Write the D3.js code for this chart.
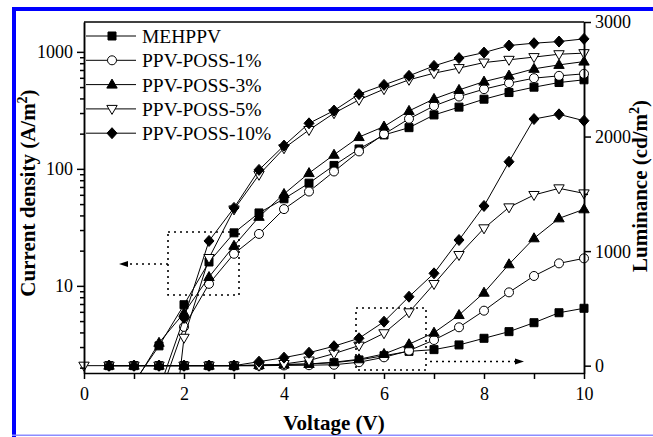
<!DOCTYPE html>
<html>
<head>
<meta charset="utf-8">
<script src="https://cdn.jsdelivr.net/npm/d3@7"></script>
<style>
  body { margin: 0; background: #fff; }
  text { font-family: "Liberation Serif", "Times New Roman", serif; }
</style>
</head>
<body>
<svg id="chart" width="653" height="437"></svg>
<script>
// voltage steps, 0 .. 10 V
const voltage = [0, 0.5, 1, 1.5, 2, 2.5, 3, 3.5, 4, 4.5, 5, 5.5, 6, 6.5, 7, 7.5, 8, 8.5, 9, 9.5, 10];

const seriesNames = ["MEHPPV", "PPV-POSS-1%", "PPV-POSS-3%", "PPV-POSS-5%", "PPV-POSS-10%"];
const seriesShapes = ["square", "circle", "triUp", "triDown", "diamond"];

// current density (A/m2), left log axis
const jMEH   = [null, null, 1.5, 3.07, 6.9, 16.0, 28.4, 42, 55.5, 75.5, 107, 148, 195, 225, 289, 337, 394, 449, 499, 547, 577];
const jP1    = [null, null, null, 1.1, 4.46, 10.4, 18.8, 27.8, 45.3, 64, 95, 141, 198, 268, 345, 415, 480, 540, 596, 624, 649];
const jP3    = [null, null, 1.45, 3.26, 5.87, 11.9, 22, 38.9, 61, 92, 132, 187, 230, 313, 396, 473, 557, 627, 716, 774, 826];
const jP5    = [null, null, null, 0.05, 3.6, 17.3, 45, 89, 150, 215, 299, 389, 480, 577, 657, 727, 810, 855, 902, 955, 975];
const jP10   = [null, null, null, 1.3, 5.32, 24.2, 46.4, 98, 158, 245, 315, 435, 522, 624, 759, 885, 986, 1133, 1186, 1225, 1291];

// luminance (cd/m2), right linear axis
const lMEH   = [null, 0, 0, 0, 0, 0, 0, 5, 10, 15, 26, 50, 87, 125, 140, 181, 239, 297, 375, 462, 501];
const lP1    = [null, 0, 0, 0, 0, 0, 0, 0, 2, 4, 8, 30, 73, 131, 224, 335, 480, 640, 783, 893, 937];
const lP3    = [null, 0, 0, 0, 0, 0, 0, 5, 10, 15, 30, 56, 102, 187, 288, 442, 637, 885, 1112, 1286, 1365];
const lP5    = [0, 0, 0, 0, 0, 0, 0, 0, 15, 45, 105, 175, 283, 466, 713, 966, 1199, 1382, 1490, 1548, 1504];
const lP10   = [null, 0, 0, 0, 0, 0, 0, 35, 70, 113, 170, 239, 384, 602, 806, 1097, 1394, 1780, 2153, 2194, 2138];

const jSeries = [jMEH, jP1, jP3, jP5, jP10];
const lSeries = [lMEH, lP1, lP3, lP5, lP10];

const xTicks = [0, 2, 4, 6, 8, 10];
const jTicks = [10, 100, 1000];
const lTicks = [0, 1000, 2000, 3000];

const svg = d3.select("#chart");

// blue page frame
svg.append("rect").attr("x", 12).attr("y", 7).attr("width", 641).attr("height", 4).attr("fill", "#0000ff");
svg.append("rect").attr("x", 12).attr("y", 7).attr("width", 4).attr("height", 430).attr("fill", "#0000ff");
svg.append("rect").attr("x", 12).attr("y", 434.5).attr("width", 641).attr("height", 1.5).attr("fill", "#8c8cff");

const pL = 84, pR = 584, pT = 22, pB = 373;

const x = d3.scaleLinear().domain([0, 10]).range([pL, pR]);
const yJ = d3.scaleLog().domain([1.8, 1800]).range([pB, pT]);
const yL = d3.scaleLinear().domain([-64, 3000]).range([pB, pT]);

svg.append("clipPath").attr("id", "plot")
  .append("rect").attr("x", pL).attr("y", pT).attr("width", pR - pL).attr("height", pB - pT);

function markerPath(shape) {
  switch (shape) {
    case "square": return "M-4,-4H4V4H-4Z";
    case "circle": return "M4.5,0A4.5,4.5 0 1 1 -4.5,0A4.5,4.5 0 1 1 4.5,0Z";
    case "triUp": return "M0,-5.5L5.2,3.5L-5.2,3.5Z";
    case "triDown": return "M0,5.5L5.2,-3.5L-5.2,-3.5Z";
    case "diamond": return "M0,-5.5L5,0L0,5.5L-5,0Z";
  }
}
function isOpen(shape) { return shape === "circle" || shape === "triDown"; }

function drawMarker(g, shape, cx, cy) {
  g.append("path")
    .attr("d", markerPath(shape))
    .attr("transform", `translate(${cx},${cy})`)
    .attr("fill", isOpen(shape) ? "#fff" : "#000")
    .attr("stroke", "#000")
    .attr("stroke-width", 1);
}

function drawSeries(values, yScale, shape, lo) {
  const pts = voltage.map((v, i) => [v, values[i]]).filter(d => d[1] !== null);
  const line = d3.line().x(d => x(d[0])).y(d => yScale(d[1]));
  svg.append("path")
    .datum(pts)
    .attr("d", line)
    .attr("fill", "none")
    .attr("stroke", "#000")
    .attr("stroke-width", 1)
    .attr("clip-path", "url(#plot)");
  const g = svg.append("g");
  pts.filter(d => d[1] >= lo).forEach(d => drawMarker(g, shape, x(d[0]), yScale(d[1])));
}

lSeries.forEach((s, i) => drawSeries(s, yL, seriesShapes[i], -1));
jSeries.forEach((s, i) => drawSeries(s, yJ, seriesShapes[i], 1.8));

// axes
const axisStyle = g => {
  g.attr("font-family", null);
  g.selectAll("path,line").attr("stroke", "#000").attr("stroke-width", 1.5);
  g.selectAll("text").attr("font-size", 18).attr("fill", "#000");
};

svg.append("g").attr("transform", `translate(0,${pB})`)
  .call(d3.axisBottom(x).tickValues(d3.range(0, 11, 1)).tickSize(6).tickSizeOuter(0)
    .tickFormat(d => xTicks.includes(d) ? d : ""))
  .call(axisStyle)
  .call(g => g.selectAll("text").attr("dy", 0).attr("y", 27));

const minorJ = [];
[1, 10, 100, 1000].forEach(p => d3.range(2, 10).forEach(m => {
  const v = p * m; if (v >= 1.8 && v <= 1800) minorJ.push(v);
}));
svg.append("g").attr("transform", `translate(${pL},0)`)
  .call(d3.axisLeft(yJ).tickValues(minorJ).tickSize(4).tickSizeOuter(0).tickFormat(""))
  .call(axisStyle);
svg.append("g").attr("transform", `translate(${pL},0)`)
  .call(d3.axisLeft(yJ).tickValues(jTicks).tickSize(7).tickSizeOuter(0).tickFormat(d3.format("d")))
  .call(axisStyle)
  .call(g => g.selectAll("text").attr("x", -11).attr("dy", "0.33em"));

svg.append("g").attr("transform", `translate(${pR},0)`)
  .call(d3.axisRight(yL).tickValues([500, 1500, 2500]).tickSize(4).tickSizeOuter(0).tickFormat(""))
  .call(axisStyle);
svg.append("g").attr("transform", `translate(${pR},0)`)
  .call(d3.axisRight(yL).tickValues(lTicks).tickSize(7).tickSizeOuter(0).tickFormat(d3.format("d")))
  .call(axisStyle)
  .call(g => g.selectAll("text").attr("x", 11).attr("dy", "0.33em"));

svg.append("line").attr("x1", pL).attr("x2", pR).attr("y1", pT).attr("y2", pT)
  .attr("stroke", "#000").attr("stroke-width", 1.5);

// axis titles
svg.append("text").attr("x", x(5)).attr("y", 430).attr("text-anchor", "middle")
  .attr("font-size", 21).attr("font-weight", "bold").text("Voltage (V)");

const tl = svg.append("text").attr("transform", "translate(35,193) rotate(-90)")
  .attr("text-anchor", "middle").attr("font-size", 21).attr("font-weight", "bold");
tl.append("tspan").text("Current density (A/m");
tl.append("tspan").attr("dy", -8).attr("font-size", 14).text("2");
tl.append("tspan").attr("dy", 8).text(")");

const tr = svg.append("text").attr("transform", "translate(647,186) rotate(-90)")
  .attr("text-anchor", "middle").attr("font-size", 21).attr("font-weight", "bold");
tr.append("tspan").text("Luminance (cd/m");
tr.append("tspan").attr("dy", -8).attr("font-size", 14).text("2");
tr.append("tspan").attr("dy", 8).text(")");

// legend
const legend = svg.append("g");
seriesNames.forEach((name, i) => {
  const ly = 36 + i * 24.3;
  legend.append("line").attr("x1", 86).attr("x2", 136).attr("y1", ly).attr("y2", ly)
    .attr("stroke", "#000").attr("stroke-width", 1);
  drawMarker(legend, seriesShapes[i], 112, ly);
  legend.append("text").attr("x", 142).attr("y", ly + 7).attr("font-size", 19.5).text(name);
});

// dotted annotation boxes and arrows
const dots = { stroke: "#000", "stroke-width": 1.6, "stroke-dasharray": "2,4", fill: "none" };
function dotted(sel) { Object.entries(dots).forEach(([k, v]) => sel.attr(k, v)); return sel; }

dotted(svg.append("rect").attr("x", 168).attr("y", 232).attr("width", 71).attr("height", 63));
dotted(svg.append("line").attr("x1", 168).attr("x2", 126).attr("y1", 264).attr("y2", 264));
svg.append("path").attr("d", "M119,264L128,261L128,267Z").attr("fill", "#000");

dotted(svg.append("rect").attr("x", 356).attr("y", 308).attr("width", 70).attr("height", 62));
dotted(svg.append("line").attr("x1", 430).attr("x2", 517).attr("y1", 361.5).attr("y2", 361.5));
svg.append("path").attr("d", "M524,361.5L515,358.5L515,364.5Z").attr("fill", "#000");
</script>
</body>
</html>
